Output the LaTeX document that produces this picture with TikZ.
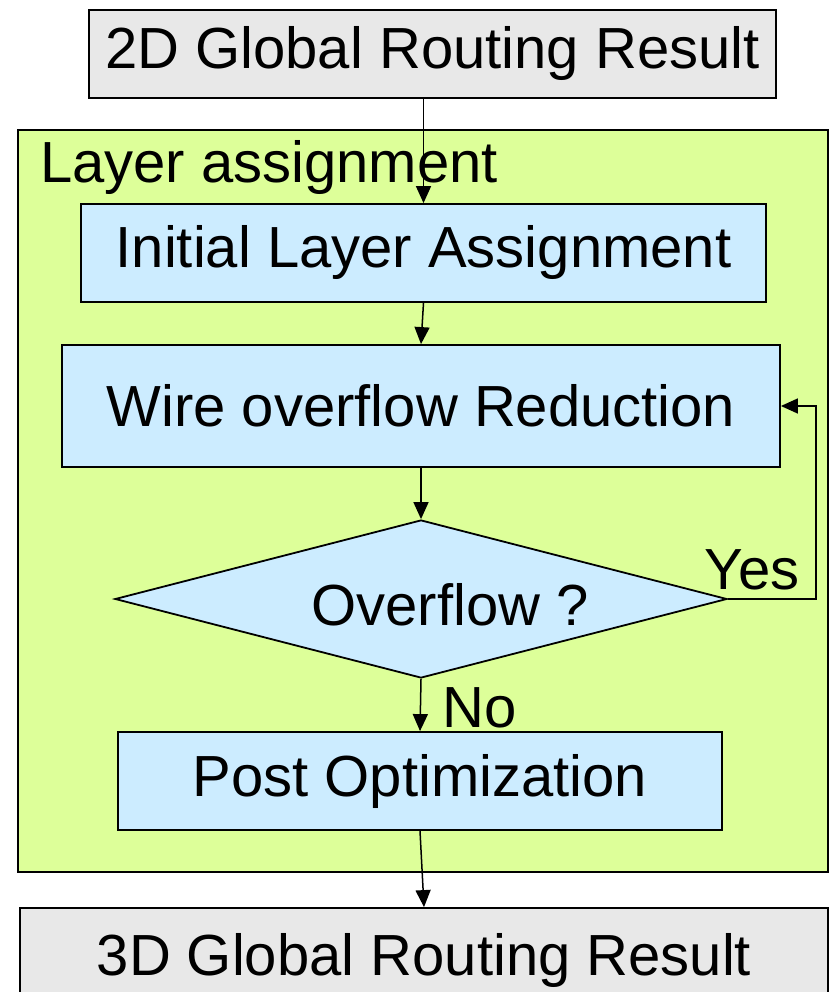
\documentclass[tikz,border=0pt]{standalone}
\usepackage{fontspec}
\setmainfont{Liberation Sans}
\usetikzlibrary{shapes.geometric,arrows.meta}
\definecolor{resultgray}{HTML}{E8E8E8}
\definecolor{layergreen}{HTML}{DDFF99}
\definecolor{stepblue}{HTML}{CCECFF}
\begin{document}
\begin{tikzpicture}
  [x=1pt,y=-1pt,
   result/.style={rectangle, draw, line width=1.8pt, fill=resultgray, inner sep=0pt},
   stepbox/.style={rectangle, draw, line width=1.8pt, fill=stepblue, inner sep=0pt},
   flow/.style={line width=1.5pt, -{Triangle[length=17pt,width=15pt]}},
   every node/.style={font=\fontsize{58}{62}\selectfont}]
  \clip (0,0) rectangle (829,992);
  \useasboundingbox (0,0) rectangle (829,992);
  \node[rectangle, draw, line width=1.8pt, fill=layergreen, minimum width=810pt, minimum height=742pt] (layer) at (423,501) {};
  \node[anchor=base west, inner sep=0pt] (layer_lbl) at (40,183) {Layer assignment};
  \node[result, minimum width=687pt, minimum height=88pt] (global2d) at (432.5,54) {2D Global Routing Result};
  \node[stepbox, minimum width=685pt, minimum height=98pt] (init_la) at (423.5,253) {Initial Layer Assignment};
  \node[stepbox, minimum width=718pt, minimum height=122pt] (wire_red) at (421,406) {Wire overflow Reduction};
  \node[diamond, draw, line width=1.8pt, fill=stepblue, inner sep=0pt, minimum width=612pt, minimum height=158pt,
        label={[xshift=29pt,yshift=-6pt]center:Overflow ?}] (overflow) at (421,599) {};
  \node[stepbox, minimum width=604pt, minimum height=98pt] (post_opt) at (420,781) {Post Optimization};
  \node[result, minimum width=808pt, minimum height=104pt] (global3d) at (424,960) {3D Global Routing Result};
  \node (yes_lbl) at (752,570) {Yes};
  \node (no_lbl) at (480,708) {No};

  \draw[flow] (global2d.south -| init_la.north) -- (init_la.north);
  \draw[flow] (init_la.south) -- (wire_red.north);
  \draw[flow] (wire_red.south) -- (overflow.north);
  \draw[flow] (overflow.east) -- ++(88,0) |- (wire_red.east);
  \draw[flow] (overflow.south) -- (post_opt.north);
  \draw[flow] (post_opt.south) -- (global3d.north);
\end{tikzpicture}
\end{document}
